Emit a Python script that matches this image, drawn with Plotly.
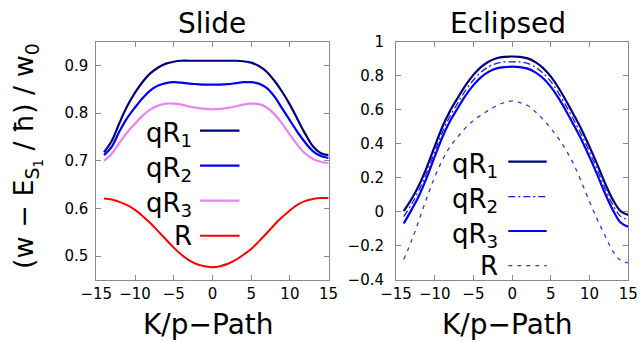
import plotly.graph_objects as go

# ---------------- data ----------------
k_path = list(range(-14, 16))  # -14 .. 15

slide_qR1 = [0.718, 0.742, 0.780, 0.815, 0.843, 0.866, 0.884, 0.896, 0.904, 0.908,
             0.910, 0.910, 0.910, 0.910, 0.910, 0.910, 0.910, 0.910, 0.909, 0.906,
             0.899, 0.887, 0.868, 0.845, 0.818, 0.787, 0.756, 0.730, 0.716, 0.712]
slide_qR2 = [0.712, 0.730, 0.762, 0.790, 0.812, 0.832, 0.848, 0.858, 0.863, 0.865,
             0.864, 0.862, 0.861, 0.860, 0.860, 0.860, 0.861, 0.863, 0.865, 0.865,
             0.862, 0.853, 0.835, 0.810, 0.785, 0.760, 0.738, 0.720, 0.710, 0.706]
slide_qR3 = [0.700, 0.715, 0.738, 0.760, 0.778, 0.795, 0.808, 0.816, 0.820, 0.820,
             0.818, 0.814, 0.811, 0.809, 0.808, 0.809, 0.811, 0.814, 0.818, 0.820,
             0.819, 0.812, 0.798, 0.778, 0.755, 0.733, 0.715, 0.704, 0.698, 0.695]
slide_R = [0.621, 0.619, 0.614, 0.607, 0.597, 0.584, 0.569, 0.552, 0.535, 0.518,
           0.503, 0.491, 0.483, 0.479, 0.477, 0.479, 0.484, 0.492, 0.503, 0.515,
           0.531, 0.548, 0.566, 0.582, 0.596, 0.608, 0.616, 0.620, 0.622, 0.622]

ecl_qR1 = [0.005, 0.075, 0.160, 0.265, 0.385, 0.500, 0.595, 0.672, 0.745, 0.805,
           0.852, 0.884, 0.903, 0.911, 0.913, 0.911, 0.902, 0.880, 0.845, 0.795,
           0.728, 0.650, 0.567, 0.480, 0.382, 0.278, 0.168, 0.072, 0.005, -0.018]
ecl_qR2 = [-0.028, 0.045, 0.130, 0.235, 0.355, 0.470, 0.565, 0.642, 0.715, 0.775,
           0.822, 0.854, 0.873, 0.881, 0.882, 0.881, 0.872, 0.850, 0.815, 0.765,
           0.698, 0.620, 0.537, 0.450, 0.352, 0.248, 0.138, 0.042, -0.025, -0.047]
ecl_qR3 = [-0.068, 0.012, 0.098, 0.205, 0.325, 0.440, 0.535, 0.612, 0.685, 0.745,
           0.792, 0.824, 0.843, 0.851, 0.853, 0.851, 0.842, 0.820, 0.785, 0.735,
           0.668, 0.590, 0.507, 0.420, 0.322, 0.218, 0.108, 0.012, -0.062, -0.087]
ecl_R = [-0.280, -0.170, -0.045, 0.085, 0.205, 0.305, 0.385, 0.442, 0.495, 0.537,
         0.569, 0.598, 0.624, 0.643, 0.652, 0.642, 0.625, 0.589, 0.543, 0.490,
         0.430, 0.360, 0.275, 0.170, 0.060, -0.045, -0.140, -0.230, -0.285, -0.300]

x_tickvals = [-15, -10, -5, 0, 5, 10, 15]
x_ticktext = ["\u221215", "\u221210", "\u22125", "0", "5", "10", "15"]
slide_tickvals = [0.5, 0.6, 0.7, 0.8, 0.9]
slide_ticktext = ["0.5", "0.6", "0.7", "0.8", "0.9"]
ecl_tickvals = [-0.4, -0.2, 0, 0.2, 0.4, 0.6, 0.8, 1]
ecl_ticktext = ["\u22120.4", "\u22120.2", "0", "0.2", "0.4", "0.6", "0.8", "1"]

legend_labels = ["qR<sub>1</sub>", "qR<sub>2</sub>", "qR<sub>3</sub>", "R"]
panel_titles = ["Slide", "Eclipsed"]
x_title = "K/p\u2212Path"
y_title = "(w \u2212 E<sub>S<sub>1</sub></sub> / \u0127) / w<sub>0</sub>"

# ---------------- styles ----------------
W, H = 640, 342
FONT = "DejaVu Sans"
slide_styles = [dict(color="#00007f", width=2.2), dict(color="#0000ff", width=2.2),
                dict(color="#ee82ee", width=2.2), dict(color="#ff0000", width=2)]
ecl_styles = [dict(color="#00007f", width=2.2),
              dict(color="#1f1fd0", width=1.3, dash="7px,3px,2px,3px"),
              dict(color="#0000ff", width=2.2),
              dict(color="#3333ff", width=1.3, dash="4px,5px")]


def px_x(v):
    return v / W


def px_y(v):
    return 1 - v / H


fig = go.Figure()
for ys, st in zip([slide_qR1, slide_qR2, slide_qR3, slide_R], slide_styles):
    fig.add_trace(go.Scatter(x=k_path, y=ys, mode="lines", line=dict(shape="spline", **st),
                             xaxis="x", yaxis="y", showlegend=False, hoverinfo="skip"))
for ys, st in zip([ecl_qR1, ecl_qR2, ecl_qR3, ecl_R], ecl_styles):
    fig.add_trace(go.Scatter(x=k_path, y=ys, mode="lines", line=dict(shape="spline", **st),
                             xaxis="x2", yaxis="y2", showlegend=False, hoverinfo="skip"))

axis_common = dict(showline=True, mirror="ticks", linecolor="#8a8a8a", linewidth=1,
                   ticks="inside", ticklen=5, tickcolor="#8a8a8a", showgrid=False,
                   zeroline=False, automargin=False,
                   tickfont=dict(family=FONT, size=15, color="black"))

ydom = [px_y(280), px_y(41.7)]
fig.update_layout(
    template="none",
    width=W, height=H, margin=dict(l=0, r=0, t=0, b=0, pad=0, autoexpand=False),
    paper_bgcolor="white", plot_bgcolor="white", showlegend=False,
    xaxis=dict(domain=[px_x(96.3), px_x(328.6)], range=[-15, 15], anchor="y",
               tickvals=x_tickvals, ticktext=x_ticktext, **axis_common),
    yaxis=dict(domain=ydom, range=[0.45, 0.95], anchor="x",
               tickvals=slide_tickvals, ticktext=slide_ticktext, ticklabelstandoff=4, **axis_common),
    xaxis2=dict(domain=[px_x(396), px_x(628.3)], range=[-15, 15], anchor="y2",
                tickvals=x_tickvals, ticktext=x_ticktext, **axis_common),
    yaxis2=dict(domain=ydom, range=[-0.4, 1.0], anchor="x2",
                tickvals=ecl_tickvals, ticktext=ecl_ticktext, ticklabelstandoff=8, **axis_common),
)

ann = []
# panel titles
for t, cx in zip(panel_titles, [212, 508]):
    ann.append(dict(text=t, x=px_x(cx), y=px_y(23.5), xref="paper", yref="paper",
                    xanchor="center", yanchor="middle", showarrow=False,
                    font=dict(family=FONT, size=28, color="black")))
# x titles
for cx in [208, 507.5]:
    ann.append(dict(text=x_title, x=px_x(cx), y=px_y(324), xref="paper", yref="paper",
                    xanchor="center", yanchor="middle", showarrow=False,
                    font=dict(family=FONT, size=28, color="black")))
# y title
ann.append(dict(text=y_title, x=px_x(27), y=px_y(156), xref="paper", yref="paper",
                xanchor="center", yanchor="middle", showarrow=False, textangle=-90,
                font=dict(family=FONT, size=27, color="black")))

shapes = []
# legends (text on left, sample on right)
left_rows = [130.7, 165.7, 200.7, 235.7]
right_rows = [161.7, 196.7, 231.0, 265.7]
for rows, styles, tx, lx0, lx1 in [(left_rows, slide_styles, 194, 200, 239.5),
                                   (right_rows, ecl_styles, 500, 508.3, 546.7)]:
    for lab, ry, st in zip(legend_labels, rows, styles):
        shift = 4 if "sub" in lab else 0
        ann.append(dict(text=lab, x=px_x(tx), y=px_y(ry), xref="paper", yref="paper",
                        xanchor="right", yanchor="middle", yshift=-shift, showarrow=False,
                        font=dict(family=FONT, size=26, color="black")))
        shapes.append(dict(type="line", xref="paper", yref="paper",
                           x0=px_x(lx0), x1=px_x(lx1), y0=px_y(ry), y1=px_y(ry),
                           line=st))

fig.update_layout(annotations=ann, shapes=shapes)
fig.write_html("out.html", config={"displayModeBar": False},
               post_script="document.body.style.margin='0px';document.body.style.overflow='hidden';")
